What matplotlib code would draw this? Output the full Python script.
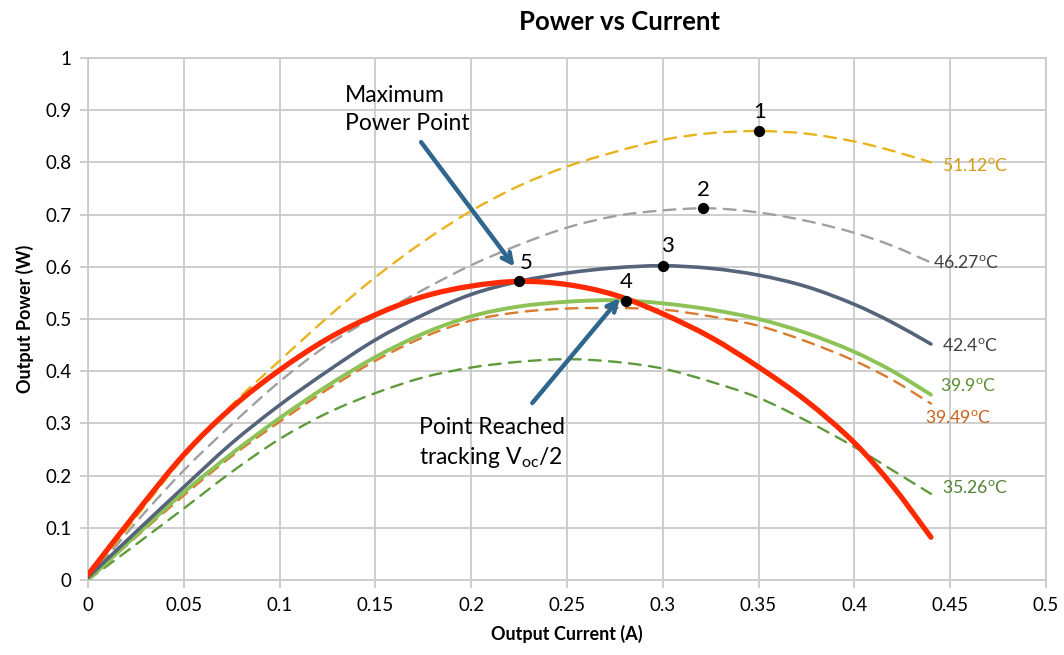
import matplotlib
matplotlib.use("Agg")
import matplotlib.pyplot as plt
from matplotlib.path import Path
from matplotlib.patches import PathPatch

plt.rcParams['font.family'] = ['Lato', 'DejaVu Sans']
plt.rcParams['mathtext.fontset'] = 'custom'
plt.rcParams['mathtext.rm'] = 'Lato'

# ---- data ----
current = [0, 0.025, 0.05, 0.075, 0.1, 0.125, 0.15, 0.175, 0.2, 0.225, 0.25,
           0.275, 0.3, 0.325, 0.35, 0.375, 0.4, 0.42, 0.44]

p_51_12 = [0, 0.12, 0.235, 0.335, 0.42, 0.503, 0.58, 0.648, 0.707, 0.755, 0.792,
           0.82, 0.843, 0.856, 0.86, 0.855, 0.84, 0.822, 0.80]
p_46_27 = [0, 0.11, 0.21, 0.298, 0.38, 0.45, 0.505, 0.556, 0.603, 0.642, 0.675,
           0.697, 0.708, 0.712, 0.704, 0.688, 0.665, 0.64, 0.608]
p_42_4 = [0.005, 0.092, 0.178, 0.262, 0.335, 0.40, 0.46, 0.508, 0.547, 0.572, 0.588,
          0.598, 0.602, 0.597, 0.584, 0.562, 0.528, 0.493, 0.452]
p_voc2 = [0.01, 0.128, 0.24, 0.33, 0.402, 0.462, 0.508, 0.543, 0.563, 0.572, 0.566,
          0.546, 0.51, 0.465, 0.408, 0.343, 0.263, 0.18, 0.082]
p_39_9 = [0, 0.085, 0.168, 0.242, 0.31, 0.372, 0.427, 0.472, 0.505, 0.524, 0.533,
          0.536, 0.53, 0.518, 0.50, 0.473, 0.437, 0.40, 0.355]
p_39_49 = [0, 0.082, 0.162, 0.237, 0.303, 0.365, 0.42, 0.465, 0.497, 0.513, 0.52,
           0.521, 0.518, 0.505, 0.487, 0.457, 0.42, 0.383, 0.338]
p_35_26 = [0, 0.068, 0.137, 0.207, 0.27, 0.32, 0.358, 0.388, 0.407, 0.418, 0.423,
           0.418, 0.405, 0.38, 0.349, 0.305, 0.255, 0.21, 0.165]

point_labels = ['1', '2', '3', '4', '5']
point_x = [0.35, 0.321, 0.30, 0.281, 0.225]
point_y = [0.86, 0.713, 0.602, 0.535, 0.572]

temp_labels = ['51.12', '46.27', '42.4', '39.9', '39.49', '35.26']


def smooth_path(xs, ys):
    """Smoothed line (like a spreadsheet 'smoothed line'): cubic Hermite
    segments through the data points, drawn as Bezier curves."""
    n = len(xs)
    slopes = []
    for i in range(n):
        a = max(i - 1, 0)
        b = min(i + 1, n - 1)
        slopes.append((ys[b] - ys[a]) / (xs[b] - xs[a]))
    verts = [(xs[0], ys[0])]
    codes = [Path.MOVETO]
    for i in range(n - 1):
        h = xs[i + 1] - xs[i]
        c1 = (xs[i] + h / 3.0, ys[i] + slopes[i] * h / 3.0)
        c2 = (xs[i + 1] - h / 3.0, ys[i + 1] - slopes[i + 1] * h / 3.0)
        verts += [c1, c2, (xs[i + 1], ys[i + 1])]
        codes += [Path.CURVE4, Path.CURVE4, Path.CURVE4]
    return Path(verts, codes)


fig = plt.figure(figsize=(10.64, 6.55), dpi=100)
ax = fig.add_axes([0.0827, 0.1145, 0.9003, 0.797])

c_yellow = '#E8B31C'
c_grey = '#A0A0A0'
c_slate = '#56647B'
c_red = '#FF2A00'
c_lgreen = '#8DC257'
c_orange = '#D97A2E'
c_dgreen = '#5F9A3C'

dash = (0, (5, 3.5))
series = [
    (p_51_12, c_yellow, 1.7, dash, 3),
    (p_46_27, c_grey, 1.7, dash, 3),
    (p_35_26, c_dgreen, 1.7, dash, 3),
    (p_39_49, c_orange, 1.7, dash, 3),
    (p_39_9, c_lgreen, 2.8, '-', 4),
    (p_42_4, c_slate, 2.6, '-', 4),
    (p_voc2, c_red, 3.8, '-', 5),
]
for ys, col, lw, ls, z in series:
    patch = PathPatch(smooth_path(current, ys), fill=False, edgecolor=col, lw=lw,
                      linestyle=ls, capstyle='round', joinstyle='round', zorder=z)
    ax.add_patch(patch)

ax.scatter(point_x, point_y, s=50, color='black', zorder=7)
num_offsets = [(0.0007, 0.036), (0.0, 0.035), (0.0027, 0.037), (0.0, 0.035), (0.004, 0.036)]
for lab, px, py, (dx, dy) in zip(point_labels, point_x, point_y, num_offsets):
    ax.text(px + dx, py + dy, lab, fontsize=16, ha='center', va='center', zorder=8)

temp_pos = [(0.4457, 0.793), (0.441, 0.607), (0.4457, 0.448), (0.4447, 0.370),
            (0.437, 0.31), (0.4457, 0.176)]
temp_colors = ['#D49B16', '#404040', '#404040', '#5A8F2E', '#C8611C', '#548235']
for lab, (tx, ty), tc in zip(temp_labels, temp_pos, temp_colors):
    ax.text(tx, ty, lab + r'$^{\mathrm{o}}$C', fontsize=12.7, color=tc,
            ha='left', va='center', zorder=8)

arrow_c = '#2E668E'
ax.annotate('', xy=(0.2235, 0.596), xytext=(0.173, 0.843),
            arrowprops=dict(arrowstyle='->,head_length=0.7,head_width=0.35',
                            color=arrow_c, lw=3.2), zorder=9)
ax.annotate('', xy=(0.2785, 0.544), xytext=(0.231, 0.335),
            arrowprops=dict(arrowstyle='->,head_length=0.7,head_width=0.35',
                            color=arrow_c, lw=3.2), zorder=9)
ax.text(0.134, 0.948, 'Maximum\nPower Point', fontsize=16.5, ha='left', va='top',
        linespacing=1.4, zorder=9)
ax.text(0.173, 0.313, 'Point Reached\ntracking V$_{\\mathrm{oc}}$/2', fontsize=16.5,
        ha='left', va='top', linespacing=1.4, zorder=9)

ax.set_xlim(0, 0.5)
ax.set_ylim(0, 1)
ax.set_xticks([0, 0.05, 0.1, 0.15, 0.2, 0.25, 0.3, 0.35, 0.4, 0.45, 0.5])
ax.set_xticklabels(['0', '0.05', '0.1', '0.15', '0.2', '0.25', '0.3', '0.35', '0.4', '0.45', '0.5'])
ax.set_yticks([0, 0.1, 0.2, 0.3, 0.4, 0.5, 0.6, 0.7, 0.8, 0.9, 1.0])
ax.set_yticklabels(['0', '0.1', '0.2', '0.3', '0.4', '0.5', '0.6', '0.7', '0.8', '0.9', '1'])
ax.grid(True, color='#CACACA', lw=1.3)
ax.set_axisbelow(True)
for s in ax.spines.values():
    s.set_color('#CACACA')
    s.set_linewidth(1.3)
ax.tick_params(axis='both', length=6, width=1.3, color='#CACACA', labelsize=13.5, pad=6)

ax.set_xlabel('Output Current (A)', fontsize=13, fontweight='bold', labelpad=8)
ax.set_ylabel('Output Power (W)', fontsize=13, fontweight='bold', labelpad=8)
fig.text(0.582, 0.966, 'Power vs Current', fontsize=18.5, fontweight='bold',
         ha='center', va='center')

fig.savefig('out.png', dpi=100)
